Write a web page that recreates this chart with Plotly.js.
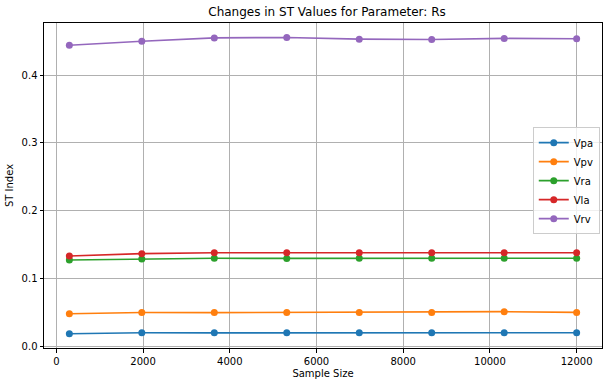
<!DOCTYPE html>
<html>
<head>
<meta charset="utf-8">
<script src="https://cdn.plot.ly/plotly-3.0.1.min.js"></script>
<style>
  html, body { margin: 0; padding: 0; background: #fff; }
  #chart { width: 609px; height: 387px; }
</style>
</head>
<body>
<div id="chart"></div>
<script>
// sample sizes (x) and ST index per output variable
const sampleSizes = [300, 1971, 3643, 5314, 6986, 8657, 10329, 12000];
const seriesNames = ["Vpa", "Vpv", "Vra", "Vla", "Vrv"];
const vpa = [0.0188, 0.0201, 0.0200, 0.0200, 0.0200, 0.0200, 0.0201, 0.0201];
const vpv = [0.0481, 0.0500, 0.0499, 0.0501, 0.0500, 0.0500, 0.0513, 0.0502];
const vra = [0.1275, 0.1290, 0.1300, 0.1298, 0.1299, 0.1300, 0.1301, 0.1301];
const vla = [0.1334, 0.1368, 0.1382, 0.1381, 0.1381, 0.1381, 0.1382, 0.1381];
const vrv = [0.4440, 0.4500, 0.4548, 0.4555, 0.4530, 0.4525, 0.4541, 0.4535];
const colors = ["#1f77b4", "#ff7f0e", "#2ca02c", "#d62728", "#9467bd"];

const values = [vpa, vpv, vra, vla, vrv];
const traces = values.map((ys, i) => ({
  x: sampleSizes,
  y: ys,
  name: seriesNames[i],
  mode: "lines+markers",
  line: { color: colors[i], width: 1.6 },
  marker: { color: colors[i], size: 7 }
}));

const axisCommon = {
  showline: true,
  linecolor: "#000",
  linewidth: 1,
  mirror: true,
  ticks: "outside",
  ticklen: 3.5,
  tickcolor: "#000",
  showgrid: true,
  gridcolor: "#b0b0b0",
  gridwidth: 1,
  zeroline: false,
  tickfont: { size: 10, color: "#000" }
};

const layout = {
  width: 609,
  height: 387,
  paper_bgcolor: "#fff",
  plot_bgcolor: "#fff",
  font: { family: "DejaVu Sans", color: "#000" },
  margin: { l: 44, r: 7, t: 23, b: 39 },
  title: {
    text: "Changes in ST Values for Parameter: Rs",
    font: { size: 12 },
    x: 0.537, xanchor: "center",
    y: 0.97, yanchor: "middle"
  },
  xaxis: Object.assign({}, axisCommon, {
    range: [-285, 12585],
    dtick: 2000,
    tick0: 0,
    tickformat: "d",
    title: { text: "Sample Size", font: { size: 10 }, standoff: 4 }
  }),
  yaxis: Object.assign({}, axisCommon, {
    range: [-0.0023, 0.4768],
    dtick: 0.1,
    tick0: 0,
    tickformat: ".1f",
    title: { text: "ST Index", font: { size: 10 }, standoff: 6 }
  }),
  legend: {
    x: 0.996, xanchor: "right",
    y: 0.515, yanchor: "middle",
    bgcolor: "rgba(255,255,255,0.8)",
    bordercolor: "#cccccc",
    borderwidth: 1,
    font: { size: 10 },
    itemwidth: 30,
    tracegroupgap: 0
  },
  showlegend: true
};

Plotly.newPlot("chart", traces, layout, { displayModeBar: false, staticPlot: true });
</script>
</body>
</html>
